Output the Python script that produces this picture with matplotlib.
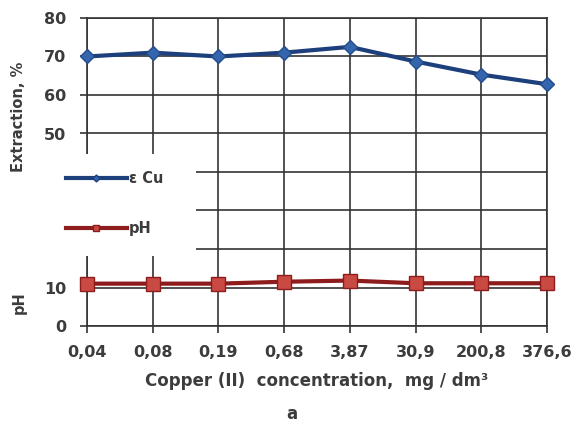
import matplotlib.pyplot as plt
from matplotlib.lines import Line2D
from matplotlib.patches import Rectangle

# Copper (II) concentration categories, mg/dm3
concentrations = ["0,04", "0,08", "0,19", "0,68", "3,87", "30,9", "200,8", "376,6"]
# Extraction of copper, %
extraction_cu = [70, 71, 70, 71, 72.5, 68.7, 65.3, 62.8]
# pH of solution
ph_values = [11.0, 11.0, 11.0, 11.5, 11.8, 11.1, 11.1, 11.1]

y_ticks = [0, 10, 20, 30, 40, 50, 60, 70, 80]
y_tick_labels = ["0", "10", "", "", "", "50", "60", "70", "80"]

plt.rcParams['font.family'] = ['DejaVu Sans']
plt.rcParams['font.weight'] = 'bold'
text_col = "#3c3c3c"
grid_col = "#333333"

fig = plt.figure(figsize=(5.74, 4.23), dpi=100)
ax = fig.add_axes([87 / 574, 1 - 326 / 423, 460 / 574, 308 / 423])

x = list(range(len(concentrations)))

ax.plot(x, extraction_cu, color="#1d3f7c", lw=3, marker="D", ms=7,
        mfc="#3566ad", mec="#244d8c", mew=1, zorder=4, clip_on=False)
ax.plot(x, ph_values, color="#8e1c1c", lw=3, marker="s", ms=10,
        mfc="#c94a43", mec="#8e1c1c", mew=1, zorder=4, clip_on=False)

ax.set_xlim(0, len(concentrations) - 1)
ax.set_ylim(0, 80)
ax.set_xticks(x)
ax.set_xticklabels(concentrations)
ax.set_yticks(y_ticks)
ax.set_yticklabels(y_tick_labels)
ax.grid(True, color=grid_col, lw=1.2)
ax.set_axisbelow(True)
for s in ax.spines.values():
    s.set_color(grid_col)
    s.set_linewidth(1.2)
ax.tick_params(axis="both", length=5, width=1.2, color=grid_col,
               labelsize=11.5, labelcolor=text_col)
ax.tick_params(axis="x", pad=9)
ax.tick_params(axis="y", pad=10)

# white box behind the legend that hides part of the grid
ax.add_patch(Rectangle((-0.08, 0.227), 0.317, 0.331, transform=ax.transAxes,
                       facecolor="white", edgecolor="none", zorder=2.7,
                       clip_on=False))

handles = [
    Line2D([], [], color="#1d3f7c", lw=3, marker="D", ms=3.5, mfc="#3566ad"),
    Line2D([], [], color="#8e1c1c", lw=3, marker="s", ms=4, mfc="#c94a43"),
]
leg = ax.legend(handles, ["ε Cu", "pH"], frameon=False, loc="upper left",
                bbox_to_anchor=(-0.075, 0.545), handlelength=4.2,
                handletextpad=0.15, labelspacing=2.4,
                prop={"size": 10.5, "weight": "bold"})
for t in leg.get_texts():
    t.set_color(text_col)
leg.set_zorder(5)

fig.text(19 / 574, 1 - 117 / 423, "Extraction, %", rotation=90, ha="center",
         va="center", fontsize=10.5, color=text_col)
fig.text(19 / 574, 1 - 303 / 423, "pH", rotation=90, ha="center",
         va="center", fontsize=10.5, color=text_col)
fig.text(317 / 574, 1 - 381 / 423, "Copper (II)  concentration,  mg / dm³",
         ha="center", va="center", fontsize=12, color=text_col)
fig.text(292 / 574, 1 - 414 / 423, "a", ha="center", va="center",
         fontsize=12, color=text_col)

fig.savefig("out.png", dpi=100)
